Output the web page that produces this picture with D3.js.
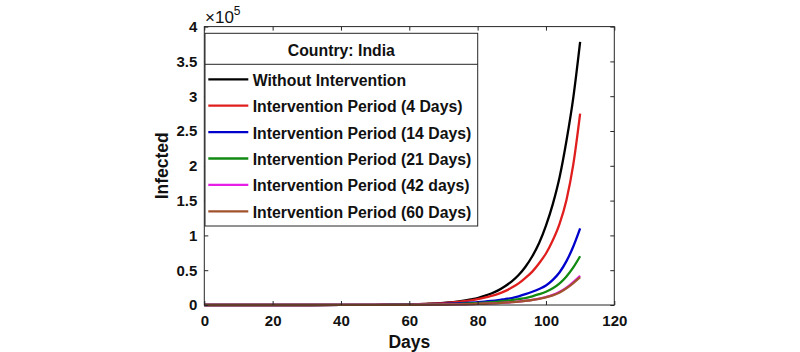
<!DOCTYPE html>
<html>
<head>
<meta charset="utf-8">
<script src="https://cdn.jsdelivr.net/npm/d3@7/dist/d3.min.js"></script>
<style>
  html, body { margin: 0; padding: 0; background: #fff; }
  svg { display: block; }
  text { font-family: "Liberation Sans", Arial, Helvetica, sans-serif; fill: #111; }
</style>
</head>
<body>
<svg id="chart" width="800" height="352"></svg>
<script>
// ---- data ----
const days = [0,10,20,30,40,50,55,60,65,70,75,78,80,82,84,86,88,90,92,94,96,98,100,102,104,106,108,110];

const withoutIntervention = [1,3,10,30,100,320,520,900,1700,3000,5500,8000,10000,13000,16500,21000,27000,34000,43000,55000,70000,89000,114000,145000,184000,236000,298000,378000];
const period4  = [1,2,8,25,80,260,430,800,1500,2800,5000,6800,8500,10500,13000,16000,20000,25000,31000,39000,48000,60000,74000,93000,117000,151000,202000,275000];
const period14 = [1,2,8,25,80,250,400,600,1000,1600,2500,3300,4000,4800,5800,7000,8500,10000,12500,15500,19000,23000,28000,36000,47000,63000,84000,110000];
const period21 = [1,2,8,25,80,240,360,450,700,1100,1700,2200,2700,3300,4000,4800,5800,7000,8500,10000,12500,15500,19000,24000,31000,41000,54000,70000];
const period42 = [1,2,8,25,80,230,260,300,450,650,1000,1300,1600,1900,2300,2800,3400,4100,5000,6100,7500,9200,11500,14500,19000,25000,33000,42000];
const period60 = [1,2,8,25,80,230,250,280,430,620,950,1200,1500,1800,2200,2700,3300,4000,4800,5900,7200,8800,11000,13800,18000,24000,31500,40000];

const seriesNames = [
  "Without Intervention",
  "Intervention Period (4 Days)",
  "Intervention Period (14 Days)",
  "Intervention Period (21 Days)",
  "Intervention Period (42 days)",
  "Intervention Period (60 Days)"
];
const seriesValues = [withoutIntervention, period4, period14, period21, period42, period60];
const seriesColors = ["#000000", "#e01e1e", "#0000cc", "#128a12", "#e61ee6", "#a0522d"];

const xTicks = [0,20,40,60,80,100,120];
const yTicks = [0,50000,100000,150000,200000,250000,300000,350000,400000];
const legendTitle = "Country: India";
const xLabel = "Days";
const yLabel = "Infected";

// ---- layout ----
const svg = d3.select("#chart");
const pL = 204.3, pR = 614.3, pT = 26.6, pB = 305;

const x = d3.scaleLinear().domain([0,120]).range([pL, pR]);
const y = d3.scaleLinear().domain([0,400000]).range([pB, pT]);

const axisColor = "#262626";

// lines
const line = d3.line()
  .x((d,i) => x(days[i]))
  .y(d => y(d))
  .curve(d3.curveMonotoneX);

const plot = svg.append("g");
seriesValues.forEach((vals, k) => {
  plot.append("path")
    .datum(vals)
    .attr("d", line)
    .attr("fill", "none")
    .attr("stroke", seriesColors[k])
    .attr("stroke-width", 2.3)
    .attr("stroke-linejoin", "round");
});

// axes (ticks inward)
const xAxis = svg.append("g")
  .attr("transform", `translate(0,${pB})`)
  .call(d3.axisBottom(x).tickValues(xTicks).tickSizeInner(-4).tickSizeOuter(0).tickPadding(10));
const xTop = svg.append("g")
  .attr("transform", `translate(0,${pT})`)
  .call(d3.axisTop(x).tickValues(xTicks).tickSizeInner(-4).tickSizeOuter(0).tickFormat(""));
const yAxis = svg.append("g")
  .attr("transform", `translate(${pL},0)`)
  .call(d3.axisLeft(y).tickValues(yTicks).tickSizeInner(-4).tickSizeOuter(0).tickPadding(7)
    .tickFormat(d => String(d/100000)));
const yRight = svg.append("g")
  .attr("transform", `translate(${pR},0)`)
  .call(d3.axisRight(y).tickValues(yTicks).tickSizeInner(-4).tickSizeOuter(0).tickFormat(""));

[xAxis, xTop, yAxis, yRight].forEach(g => {
  g.select(".domain").remove();
  g.selectAll(".tick line").attr("stroke", axisColor).attr("stroke-width", 1);
  g.selectAll(".tick text")
    .style("font-size", "15px")
    .style("font-weight", "bold")
    .attr("fill", "#111");
});

// box
svg.append("rect")
  .attr("x", pL).attr("y", pT)
  .attr("width", pR - pL).attr("height", pB - pT)
  .attr("fill", "none").attr("stroke", axisColor).attr("stroke-width", 1);

// exponent label
const exp = svg.append("text")
  .attr("x", 205).attr("y", 22.5)
  .style("font-size", "17px");
exp.append("tspan").text("×10");
exp.append("tspan").attr("dy", -8).style("font-size", "12px").text("5");

// axis labels
svg.append("text")
  .attr("x", (pL + pR) / 2).attr("y", 347.5)
  .attr("text-anchor", "middle")
  .style("font-size", "17.5px").style("font-weight", "bold")
  .text(xLabel);
svg.append("text")
  .attr("transform", `translate(167.5,${(pT + pB) / 2}) rotate(-90)`)
  .attr("text-anchor", "middle")
  .style("font-size", "17.5px").style("font-weight", "bold")
  .text(yLabel);

// legend
const lg = svg.append("g");
const lgL = 205, lgR = 477.7, lgT = 33.3, lgDiv = 64.3, lgB = 226;
lg.append("rect")
  .attr("x", lgL).attr("y", lgT)
  .attr("width", lgR - lgL).attr("height", lgB - lgT)
  .attr("fill", "#fff").attr("stroke", axisColor).attr("stroke-width", 1);
lg.append("line")
  .attr("x1", lgL).attr("x2", lgR).attr("y1", lgDiv).attr("y2", lgDiv)
  .attr("stroke", axisColor).attr("stroke-width", 1);
lg.append("text")
  .attr("x", (lgL + lgR) / 2).attr("y", 55.7)
  .attr("text-anchor", "middle")
  .style("font-size", "15.8px").style("font-weight", "bold")
  .text(legendTitle);

seriesNames.forEach((name, k) => {
  const yy = 79.3 + k * 26.4;
  lg.append("line")
    .attr("x1", 208.3).attr("x2", 248.3).attr("y1", yy).attr("y2", yy)
    .attr("stroke", seriesColors[k]).attr("stroke-width", 2.3);
  lg.append("text")
    .attr("x", 252.7).attr("y", yy + 6.5)
    .style("font-size", "15.8px").style("font-weight", "bold")
    .text(name);
});
</script>
</body>
</html>
